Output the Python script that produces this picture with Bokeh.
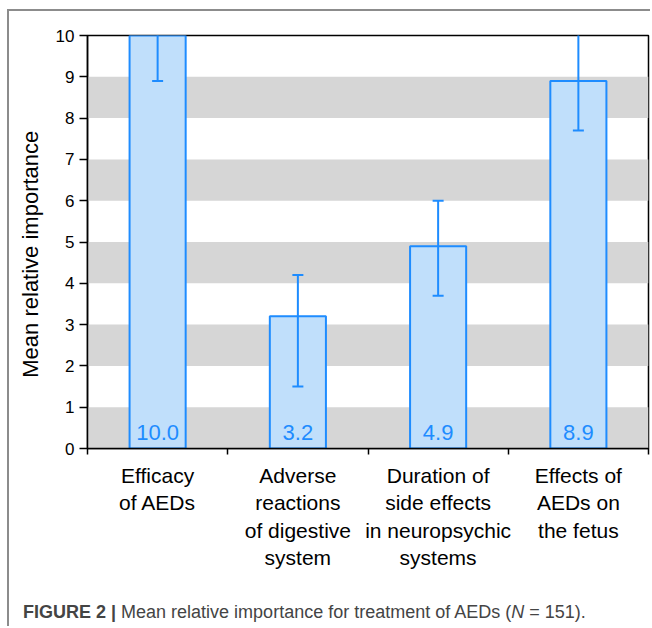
from bokeh.plotting import figure
from bokeh.models import FixedTicker, Range1d, ColumnDataSource, Div
from bokeh.layouts import column
from bokeh.core.properties import value
from bokeh.embed import file_html
from bokeh.resources import INLINE

categories = ["Efficacy\nof AEDs", "Adverse\nreactions\nof digestive\nsystem",
              "Duration of\nside effects\nin neuropsychic\nsystems", "Effects of\nAEDs on\nthe fetus"]
means = [10.0, 3.2, 4.9, 8.9]
err_low = [8.9, 1.5, 3.7, 7.7]
err_high = [11.1, 4.2, 6.0, 10.1]
yticks = [0, 1, 2, 3, 4, 5, 6, 7, 8, 9, 10]
caption_html = ("<b>FIGURE 2 |</b> Mean relative importance for treatment of AEDs "
                "(<i>N</i> = 151).")

FONT = "Liberation Sans"
BLUE = "#1e8cff"
FILL = "#c0dffb"
BAND = "#d6d6d6"

n = len(categories)
xc = [i + 0.5 for i in range(n)]

p = figure(width=641, height=591, output_backend="svg", toolbar_location=None,
           x_range=Range1d(0, n), y_range=Range1d(0, 10),
           min_border_left=78, min_border_right=2, min_border_top=24, min_border_bottom=154)
p.margin = (0, 0, 0, 0)

p.xgrid.visible = False
p.ygrid.visible = False
p.outline_line_color = "black"
p.outline_line_width = 1.5

# gray bands
bb = [t for t in yticks[:-1] if t % 2 == 0]
p.quad(left=0, right=n, bottom=bb, top=[b + 1 for b in bb], fill_color=BAND, line_color=None)

src = ColumnDataSource(dict(x=xc, top=means, lo=err_low, hi=err_high,
                            lbl=[f"{m:.1f}" for m in means]))
p.vbar(x="x", top="top", bottom=0, width=0.4, source=src, fill_color=FILL,
       line_color=BLUE, line_width=2)
p.segment(x0="x", x1="x", y0="lo", y1="hi", source=src, line_color=BLUE, line_width=2)
p.scatter(x="x", y="lo", source=src, marker="dash", size=11, line_color=BLUE, line_width=2)
p.scatter(x="x", y="hi", source=src, marker="dash", size=11, line_color=BLUE, line_width=2)
p.text(x="x", y=0, text="lbl", source=src, text_align="center", text_baseline="bottom",
       y_offset=-9, text_color=BLUE, text_font=value(FONT), text_font_size="22px")

# axes
xa = p.xaxis[0]
xa.ticker = FixedTicker(ticks=xc, minor_ticks=list(range(n + 1)))
xa.major_label_overrides = {x: c for x, c in zip(xc, categories)}
xa.major_tick_line_color = None
xa.minor_tick_in = 0
xa.minor_tick_out = 6
xa.minor_tick_line_width = 1.5
xa.axis_line_width = 1.5
xa.major_label_standoff = 9
xa.major_label_text_font = FONT
xa.major_label_text_font_size = "21px"
xa.major_label_text_color = "black"

ya = p.yaxis[0]
ya.ticker = FixedTicker(ticks=yticks, minor_ticks=[])
ya.major_tick_in = 0
ya.major_tick_out = 8
ya.major_tick_line_width = 1.5
ya.axis_line_width = 1.5
ya.major_label_standoff = 5
ya.major_label_text_font = FONT
ya.major_label_text_font_size = "17px"
ya.major_label_text_color = "black"
ya.axis_label = "Mean relative importance" + "\u00a0" * 4
ya.axis_label_text_font = FONT
ya.axis_label_text_font_size = "22px"
ya.axis_label_text_font_style = "normal"
ya.axis_label_text_color = "black"
ya.axis_label_standoff = 10

cap = Div(text=caption_html, width=641, height=24, margin=(0, 0, 0, 0),
          styles={"font-family": FONT, "font-size": "18px", "color": "#444444",
                  "line-height": "20px", "padding-left": "14px", "white-space": "nowrap"})

layout = column(p, cap, spacing=0)
layout.margin = (0, 0, 0, 0)
layout.styles = {"margin-left": "7px", "margin-top": "9px",
                 "border-left": "2px solid #8c8c8c", "border-top": "2px solid #8c8c8c"}

open("out.html", "w").write(file_html(layout, INLINE))
